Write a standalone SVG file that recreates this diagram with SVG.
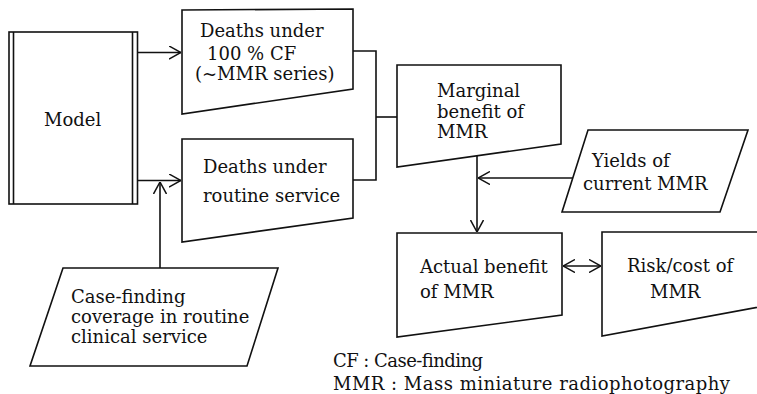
<svg xmlns="http://www.w3.org/2000/svg" width="757" height="394" viewBox="0 0 757 394">
<defs>
<marker id="arr" viewBox="0 0 12 14" refX="12" refY="7" markerWidth="12" markerHeight="14" markerUnits="userSpaceOnUse" orient="auto-start-reverse">
<path d="M0,0.5 L12,7 L0,13.5" fill="none" stroke="#111" stroke-width="1.5"/>
</marker>
<style>
.b{fill:#fff;stroke:#111;stroke-width:1.6;stroke-linejoin:miter}
.c{fill:none;stroke:#111;stroke-width:1.6}
text{font-family:"DejaVu Serif","Liberation Serif",serif;font-size:18px;fill:#111}
</style>
</defs>
<rect width="757" height="394" fill="#fff"/>
<g id="connectors">
<path class="c" d="M138,52.5 H181" marker-end="url(#arr)"/>
<path class="c" d="M138,180.5 H181" marker-end="url(#arr)"/>
<path class="c" d="M160,268 V182" marker-end="url(#arr)"/>
<path class="c" d="M353,51 H376 V180 H353"/>
<path class="c" d="M376,117 H397"/>
<path class="c" d="M477,156 V232" marker-end="url(#arr)"/>
<path class="c" d="M573,178 H478" marker-end="url(#arr)"/>
<path class="c" d="M563,266 H601" marker-start="url(#arr)" marker-end="url(#arr)"/>
</g>
<g id="model">
<rect class="b" x="9" y="32" width="128.5" height="172"/>
<path class="c" d="M13.5,32 V204 M132.5,32 V204"/>
<text x="44" y="126">Model</text>
</g>
<g id="deaths-cf">
<polygon class="b" points="182,10 353,9 353,89 182,114"/>
<text x="200" y="37">Deaths under</text>
<text x="207" y="60">100 % CF</text>
<text x="195" y="80">(~MMR series)</text>
</g>
<g id="deaths-routine">
<polygon class="b" points="182,139 353,139 353,218 182,242"/>
<text x="203" y="173">Deaths under</text>
<text x="203" y="202">routine service</text>
</g>
<g id="case-finding">
<polygon class="b" points="63,268 278,268 247,366 30,366"/>
<text x="71" y="303">Case-finding</text>
<text x="71" y="323">coverage in routine</text>
<text x="71" y="343">clinical service</text>
</g>
<g id="marginal">
<polygon class="b" points="397,65 561,65 561,144 397,167"/>
<text x="437" y="97">Marginal</text>
<text x="437" y="118">benefit of</text>
<text x="437" y="138">MMR</text>
</g>
<g id="yields">
<polygon class="b" points="588,130 748,130 720,212 562,212"/>
<text x="592" y="167">Yields of</text>
<text x="583" y="190">current MMR</text>
</g>
<g id="actual">
<polygon class="b" points="397,233 562,233 562,315 397,337"/>
<text x="420" y="273">Actual benefit</text>
<text x="420" y="298">of MMR</text>
</g>
<g id="risk">
<polygon class="b" points="602,232 770,232 770,305 602,336"/>
<text x="627" y="272">Risk/cost of</text>
<text x="650" y="298">MMR</text>
</g>
<g id="legend">
<text x="333" y="367" textLength="150" lengthAdjust="spacing">CF : Case-finding</text>
<text x="333" y="390" textLength="397" lengthAdjust="spacing">MMR : Mass miniature radiophotography</text>
</g>
</svg>
